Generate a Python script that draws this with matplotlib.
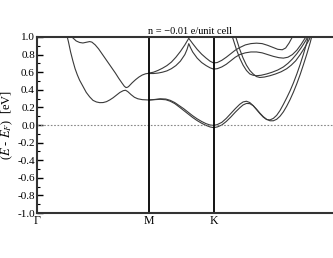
import matplotlib
matplotlib.use("Agg")
import matplotlib.pyplot as plt
from matplotlib.ticker import MultipleLocator

plt.rcParams['font.family'] = ['Liberation Serif', 'DejaVu Serif']
plt.rcParams['mathtext.fontset'] = 'stix'
plt.rcParams['axes.unicode_minus'] = False

# high-symmetry points along the path (units of |Gamma-M|); last Gamma is off the picture
kpts = [0.0, 1.0, 1.577, 2.732]
klabels = ['Γ', 'M', 'K']

# lower band pair
k_l1 = [0.26, 0.28, 0.30, 0.32, 0.34, 0.36, 0.38, 0.41, 0.44, 0.47, 0.50, 0.53, 0.56, 0.59,
        0.62, 0.65, 0.68, 0.71, 0.74, 0.77, 0.79, 0.81, 0.84, 0.87, 0.90, 0.94, 1.00,
        1.05, 1.10, 1.15, 1.19, 1.23, 1.27, 1.31, 1.35, 1.39, 1.43, 1.47, 1.51, 1.545, 1.577,
        1.61, 1.65, 1.69, 1.73, 1.77, 1.81, 1.84, 1.87, 1.90, 1.93, 1.96, 1.99, 2.02, 2.05,
        2.08, 2.11, 2.14, 2.17, 2.20, 2.23, 2.26, 2.29, 2.32, 2.35, 2.38, 2.41, 2.43]
e_l1 = [1.05, 0.95, 0.83, 0.73, 0.64, 0.57, 0.51, 0.44, 0.37, 0.32, 0.28, 0.262, 0.254, 0.255,
        0.265, 0.285, 0.31, 0.34, 0.37, 0.39, 0.395, 0.38, 0.345, 0.315, 0.298, 0.288, 0.284,
        0.29, 0.298, 0.295, 0.28, 0.255, 0.22, 0.185, 0.145, 0.105, 0.07, 0.04, 0.015, 0.0, -0.005,
        0.005, 0.03, 0.075, 0.13, 0.185, 0.235, 0.262, 0.27, 0.255, 0.22, 0.175, 0.13, 0.09, 0.062,
        0.058, 0.075, 0.11, 0.165, 0.235, 0.31, 0.39, 0.48, 0.58, 0.69, 0.81, 0.94, 1.04]

k_l2 = [1.00, 1.05, 1.10, 1.15, 1.19, 1.23, 1.27, 1.31, 1.35, 1.39, 1.43, 1.47, 1.51, 1.545, 1.577,
        1.61, 1.65, 1.69, 1.73, 1.77, 1.81, 1.84, 1.87, 1.90, 1.93, 1.96, 1.99, 2.02, 2.05,
        2.08, 2.11, 2.14, 2.17, 2.20, 2.23, 2.26, 2.29, 2.32, 2.35, 2.38, 2.41, 2.44, 2.46]
e_l2 = [0.284, 0.288, 0.292, 0.287, 0.27, 0.243, 0.205, 0.165, 0.125, 0.085, 0.05, 0.02, -0.005, -0.022, -0.03,
        -0.022, 0.0, 0.04, 0.09, 0.145, 0.195, 0.228, 0.245, 0.243, 0.22, 0.18, 0.135, 0.095, 0.065,
        0.048, 0.048, 0.065, 0.1, 0.15, 0.215, 0.29, 0.375, 0.47, 0.575, 0.69, 0.81, 0.94, 1.04]

# second band along Gamma-M
k_b = [0.30, 0.32, 0.35, 0.38, 0.41, 0.44, 0.47, 0.49, 0.52, 0.55, 0.58, 0.61, 0.64, 0.67,
       0.70, 0.73, 0.76, 0.78, 0.795, 0.81, 0.82, 0.85, 0.88, 0.91, 0.94, 0.97, 1.00]
e_b = [1.04, 0.99, 0.955, 0.938, 0.932, 0.94, 0.948, 0.942, 0.91, 0.865, 0.81, 0.755, 0.70, 0.645,
       0.59, 0.53, 0.475, 0.44, 0.425, 0.43, 0.44, 0.48, 0.515, 0.545, 0.568, 0.582, 0.588]

# upper bands from M
k_u1 = [1.00, 1.04, 1.08, 1.12, 1.16, 1.20, 1.24, 1.28, 1.32, 1.355, 1.39, 1.43, 1.47, 1.51, 1.545, 1.577,
        1.61, 1.65, 1.69, 1.73, 1.77, 1.81, 1.86, 1.91, 1.96, 2.01, 2.06, 2.11, 2.15, 2.19, 2.22, 2.25,
        2.28, 2.30]
e_u1 = [0.59, 0.60, 0.62, 0.645, 0.675, 0.715, 0.77, 0.835, 0.91, 0.985, 0.925, 0.86, 0.805, 0.76, 0.725, 0.705,
        0.71, 0.735, 0.77, 0.81, 0.85, 0.88, 0.91, 0.925, 0.93, 0.925, 0.905, 0.88, 0.86, 0.855, 0.875, 0.93,
        1.0, 1.05]

k_u2 = [1.00, 1.04, 1.08, 1.12, 1.16, 1.20, 1.24, 1.28, 1.32, 1.34, 1.355, 1.37, 1.39, 1.43, 1.47, 1.51,
        1.545, 1.577, 1.61, 1.65, 1.69, 1.73, 1.77, 1.81, 1.86, 1.91, 1.96, 2.01, 2.06, 2.11, 2.16, 2.20,
        2.24, 2.28, 2.32, 2.36, 2.40, 2.42]
e_u2 = [0.585, 0.585, 0.59, 0.60, 0.615, 0.64, 0.675, 0.725, 0.80, 0.86, 0.925, 0.88, 0.83, 0.76, 0.71, 0.675,
        0.65, 0.635, 0.64, 0.66, 0.69, 0.73, 0.77, 0.80, 0.82, 0.83, 0.83, 0.82, 0.80, 0.78, 0.765, 0.76,
        0.77, 0.80, 0.85, 0.92, 1.0, 1.05]

# steep bands between K and Gamma
k_s1 = [1.73, 1.75, 1.78, 1.81, 1.84, 1.87, 1.90, 1.93, 1.96, 2.00, 2.05, 2.10, 2.15, 2.20, 2.24,
        2.28, 2.32, 2.36, 2.40, 2.42]
e_s1 = [1.05, 0.98, 0.86, 0.76, 0.68, 0.62, 0.58, 0.565, 0.56, 0.565, 0.58, 0.60, 0.625, 0.66, 0.70,
        0.75, 0.81, 0.88, 0.96, 1.01]

k_s2 = [1.76, 1.78, 1.81, 1.84, 1.87, 1.90, 1.93, 1.96, 1.99, 2.03, 2.08, 2.13, 2.18, 2.23, 2.27,
        2.31, 2.35, 2.39, 2.43, 2.45]
e_s2 = [1.05, 0.98, 0.86, 0.76, 0.68, 0.62, 0.58, 0.55, 0.54, 0.545, 0.56, 0.58, 0.605, 0.64, 0.68,
        0.73, 0.80, 0.88, 0.97, 1.03]

bands = [(k_l1, e_l1), (k_l2, e_l2), (k_b, e_b), (k_u1, e_u1), (k_u2, e_u2), (k_s1, e_s1), (k_s2, e_s2)]

fig = plt.figure(figsize=(3.33, 2.58), dpi=100)
# axes run past the right edge, as in the reference (final Gamma is cropped off)
ax = fig.add_axes([0.1111, 0.1744, 0.9189, 0.6822])

for k, e in bands:
    ax.plot(k, e, color='#3a3a3a', lw=0.8)

ax.axhline(0, color='#888888', lw=0.8, ls=(0, (1.5, 1.5)))
for kp in kpts[1:3]:
    ax.axvline(kp, color='black', lw=1.3)

ax.set_xlim(kpts[0], kpts[-1])
ax.set_ylim(-1.0, 1.0)
ax.set_xticks(kpts[:3])
ax.set_xticklabels(klabels, fontsize=8.5)
ax.tick_params(axis='x', length=0, pad=1.5)
ax.yaxis.set_major_locator(MultipleLocator(0.2))
ax.yaxis.set_minor_locator(MultipleLocator(0.1))
ax.yaxis.set_major_formatter(lambda v, p: '%.1f' % v)
ax.tick_params(axis='y', which='both', direction='in', labelsize=8, pad=1.5)
ax.tick_params(axis='y', which='major', length=4, width=1)
ax.tick_params(axis='y', which='minor', length=2, width=0.8)
for s in ax.spines.values():
    s.set_linewidth(1.5)
    s.set_color('#333333')

ax.set_ylabel(r'($E$ - $E_F$)  [eV]', fontsize=9, labelpad=2)
ax.set_title('n = \u22120.01 e/unit cell', fontsize=7.5, pad=2)

fig.savefig('out.png', dpi=100)
